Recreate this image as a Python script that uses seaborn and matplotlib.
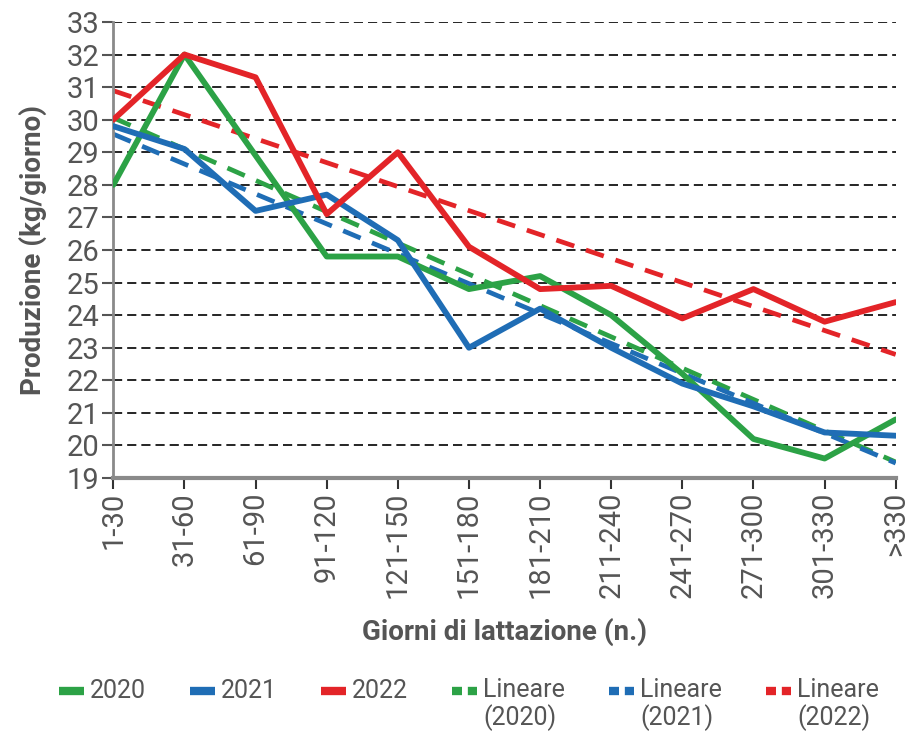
import matplotlib
matplotlib.use("Agg")
import matplotlib.pyplot as plt
from matplotlib.lines import Line2D
from matplotlib.legend_handler import HandlerLine2D
import seaborn as sns
import numpy as np
import pandas as pd

# categories and values
giorni = ["1-30", "31-60", "61-90", "91-120", "121-150", "151-180",
          "181-210", "211-240", "241-270", "271-300", "301-330", ">330"]
prod_2020 = [28.0, 32.0, 28.9, 25.8, 25.8, 24.8, 25.2, 24.0, 22.2, 20.2, 19.6, 20.8]
prod_2021 = [29.8, 29.1, 27.2, 27.7, 26.3, 23.0, 24.2, 23.0, 21.9, 21.2, 20.4, 20.3]
prod_2022 = [30.0, 32.0, 31.3, 27.1, 29.0, 26.1, 24.8, 24.9, 23.9, 24.8, 23.8, 24.4]

anni = ["2020", "2021", "2022"]
colori = {"2020": "#2ca246", "2021": "#1f6db5", "2022": "#e32428"}

sns.set_theme(style="white")
plt.rcParams['font.family'] = ['Roboto', 'DejaVu Sans']

serie = {"2020": prod_2020, "2021": prod_2021, "2022": prod_2022}
pos = np.arange(len(giorni))
df = pd.concat([pd.DataFrame({"pos": pos, "giorni": giorni, "prod": v, "anno": k})
                for k, v in serie.items()])

fig, ax = plt.subplots(figsize=(9.14, 7.31), dpi=100)
fig.subplots_adjust(left=0.124, right=0.980, top=0.970, bottom=0.346)

# gridlines first
ax.set_ylim(19, 33)
ax.set_yticks(range(19, 34))
for y in range(20, 34):
    ax.axhline(y, color="black", lw=1.2, ls=(0, (5.5, 3)), zorder=1)

for anno in anni:
    sub = df[df["anno"] == anno]
    sns.lineplot(data=sub, x="pos", y="prod", color=colori[anno], lw=4.2,
                 ax=ax, zorder=3, legend=False)

# linear trends (least squares on the same data)
for anno in anni:
    sub = df[df["anno"] == anno]
    k, q = np.polyfit(sub["pos"], sub["prod"], 1)
    ax.plot(pos, k * pos + q, color=colori[anno], lw=3.4, ls=(0, (4, 2.6)),
            zorder=2)

ax.set_xlim(0, len(giorni) - 1)
ax.set_xticks(pos)
ax.set_xticklabels(giorni, rotation=90)

grigio = "#555555"
for s in ["top", "right"]:
    ax.spines[s].set_visible(False)
ax.spines["left"].set_color("#8a8a8a")
ax.spines["left"].set_linewidth(2)
ax.spines["bottom"].set_color("#8a8a8a")
ax.spines["bottom"].set_linewidth(3)
ax.tick_params(axis="both", colors=grigio, labelsize=21, length=8, width=1.5,
               direction="out", left=True, bottom=True, pad=2)
ax.tick_params(axis="x", colors="#333333", labelcolor=grigio)

ax.set_xlabel("Giorni di lattazione (n.)", fontsize=20, fontweight="bold",
              color=grigio, labelpad=14)
ax.set_ylabel("Produzione (kg/giorno)", fontsize=20, fontweight="bold",
              color=grigio, labelpad=14)


class HandleSu(HandlerLine2D):
    # put the legend handle on the first text line
    def create_artists(self, legend, orig_handle, xdescent, ydescent,
                       width, height, fontsize, trans):
        arts = super().create_artists(legend, orig_handle, xdescent, ydescent,
                                      width, height, fontsize, trans)
        for a in arts:
            a.set_ydata(np.asarray(a.get_ydata()) + 0.55 * fontsize)
        return arts


proxy, etichette = [], []
for anno in anni:
    proxy.append(Line2D([], [], color=colori[anno], lw=6, solid_capstyle="butt"))
    etichette.append(f"{anno}\n ")
for anno in anni:
    proxy.append(Line2D([], [], color=colori[anno], lw=6, ls=(0, (1.2, 0.7)),
                        dash_capstyle="butt"))
    etichette.append(f"Lineare\n({anno})")

leg = fig.legend(proxy, etichette, loc="upper center", bbox_to_anchor=(0.513, 0.09),
                 ncol=6, frameon=False, fontsize=18, handlelength=1.0,
                 handletextpad=0.25, columnspacing=1.75, labelcolor=grigio,
                 borderpad=0, labelspacing=0,
                 handler_map={Line2D: HandleSu()})
for t in leg.get_texts():
    t.set_linespacing(1.1)

fig.savefig("out.png", dpi=100)
